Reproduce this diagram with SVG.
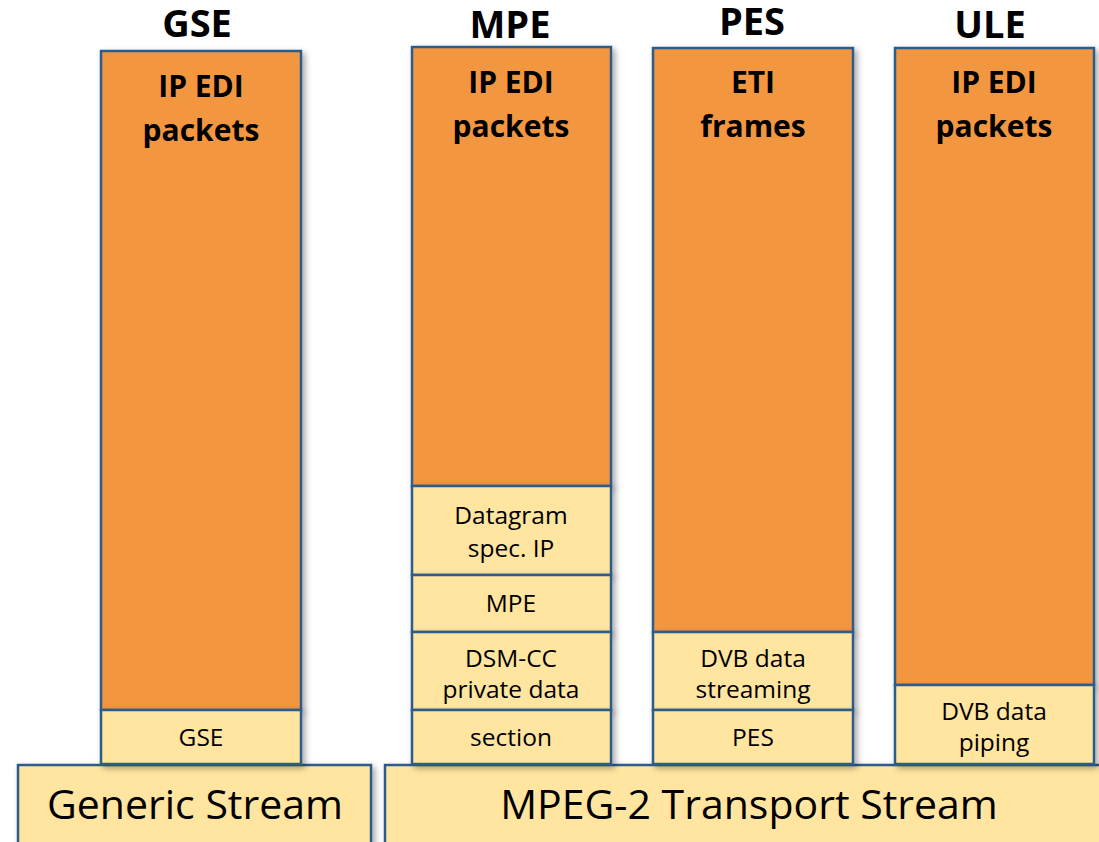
<svg xmlns="http://www.w3.org/2000/svg" width="1099" height="842" viewBox="0 0 1099 842">
  <defs>
    <filter id="shadow" x="-10%" y="-10%" width="130%" height="130%">
      <feDropShadow dx="3" dy="3" stdDeviation="3" flood-color="#000" flood-opacity="0.35"/>
    </filter>
  </defs>
  <style>
    .box { stroke: #2e5c8a; stroke-width: 2.5; filter: url(#shadow); }
    .top { fill: #f39641; }
    .layer { fill: #ffe5a0; }
    text { font-family: "Open Sans", Lato, sans-serif; fill: #000; text-anchor: middle; }
    .title { font-size: 38px; font-weight: bold; }
    .payload { font-size: 30px; font-weight: bold; }
    .small { font-size: 24.5px; }
    .base { font-size: 41px; }
  </style>
  <rect width="1099" height="842" fill="#fff"/>

  <!-- column titles -->
  <g id="titles">
    <text class="title" x="197" y="37">GSE</text>
    <text class="title" x="510" y="38">MPE</text>
    <text class="title" x="752" y="35">PES</text>
    <text class="title" x="990" y="38">ULE</text>
  </g>

  <!-- base streams -->
  <g id="generic-stream">
    <rect class="box layer" x="18" y="765" width="353" height="85"/>
    <text class="base" x="195" y="819">Generic Stream</text>
  </g>
  <g id="mpeg2-ts">
    <rect class="box layer" x="385" y="765" width="730" height="85"/>
    <text class="base" x="749" y="819">MPEG-2 Transport Stream</text>
  </g>

  <!-- GSE stack -->
  <g id="gse-stack">
    <rect class="box top" x="101" y="51" width="200" height="659"/>
    <text class="payload" x="201" y="97">IP EDI</text>
    <text class="payload" x="201" y="141">packets</text>
    <rect class="box layer" x="101" y="710" width="200" height="54"/>
    <text class="small" x="201" y="746">GSE</text>
  </g>

  <!-- MPE stack -->
  <g id="mpe-stack">
    <rect class="box top" x="412" y="47" width="199" height="439"/>
    <text class="payload" x="511" y="93">IP EDI</text>
    <text class="payload" x="511" y="137">packets</text>
    <rect class="box layer" x="412" y="486" width="199" height="89"/>
    <text class="small" x="511" y="524">Datagram</text>
    <text class="small" x="511" y="557">spec. IP</text>
    <rect class="box layer" x="412" y="575" width="199" height="57"/>
    <text class="small" x="511" y="612">MPE</text>
    <rect class="box layer" x="412" y="632" width="199" height="78"/>
    <text class="small" x="511" y="667">DSM-CC</text>
    <text class="small" x="511" y="698">private data</text>
    <rect class="box layer" x="412" y="710" width="199" height="54"/>
    <text class="small" x="511" y="746">section</text>
  </g>

  <!-- PES stack -->
  <g id="pes-stack">
    <rect class="box top" x="653" y="48" width="200" height="584"/>
    <text class="payload" x="753" y="93">ETI</text>
    <text class="payload" x="753" y="137">frames</text>
    <rect class="box layer" x="653" y="632" width="200" height="78"/>
    <text class="small" x="753" y="667">DVB data</text>
    <text class="small" x="753" y="698">streaming</text>
    <rect class="box layer" x="653" y="710" width="200" height="54"/>
    <text class="small" x="753" y="746">PES</text>
  </g>

  <!-- ULE stack -->
  <g id="ule-stack">
    <rect class="box top" x="895" y="48" width="199" height="637"/>
    <text class="payload" x="994" y="93">IP EDI</text>
    <text class="payload" x="994" y="137">packets</text>
    <rect class="box layer" x="895" y="685" width="199" height="79"/>
    <text class="small" x="994" y="720">DVB data</text>
    <text class="small" x="994" y="751">piping</text>
  </g>

  <g id="connectors"/>
</svg>
